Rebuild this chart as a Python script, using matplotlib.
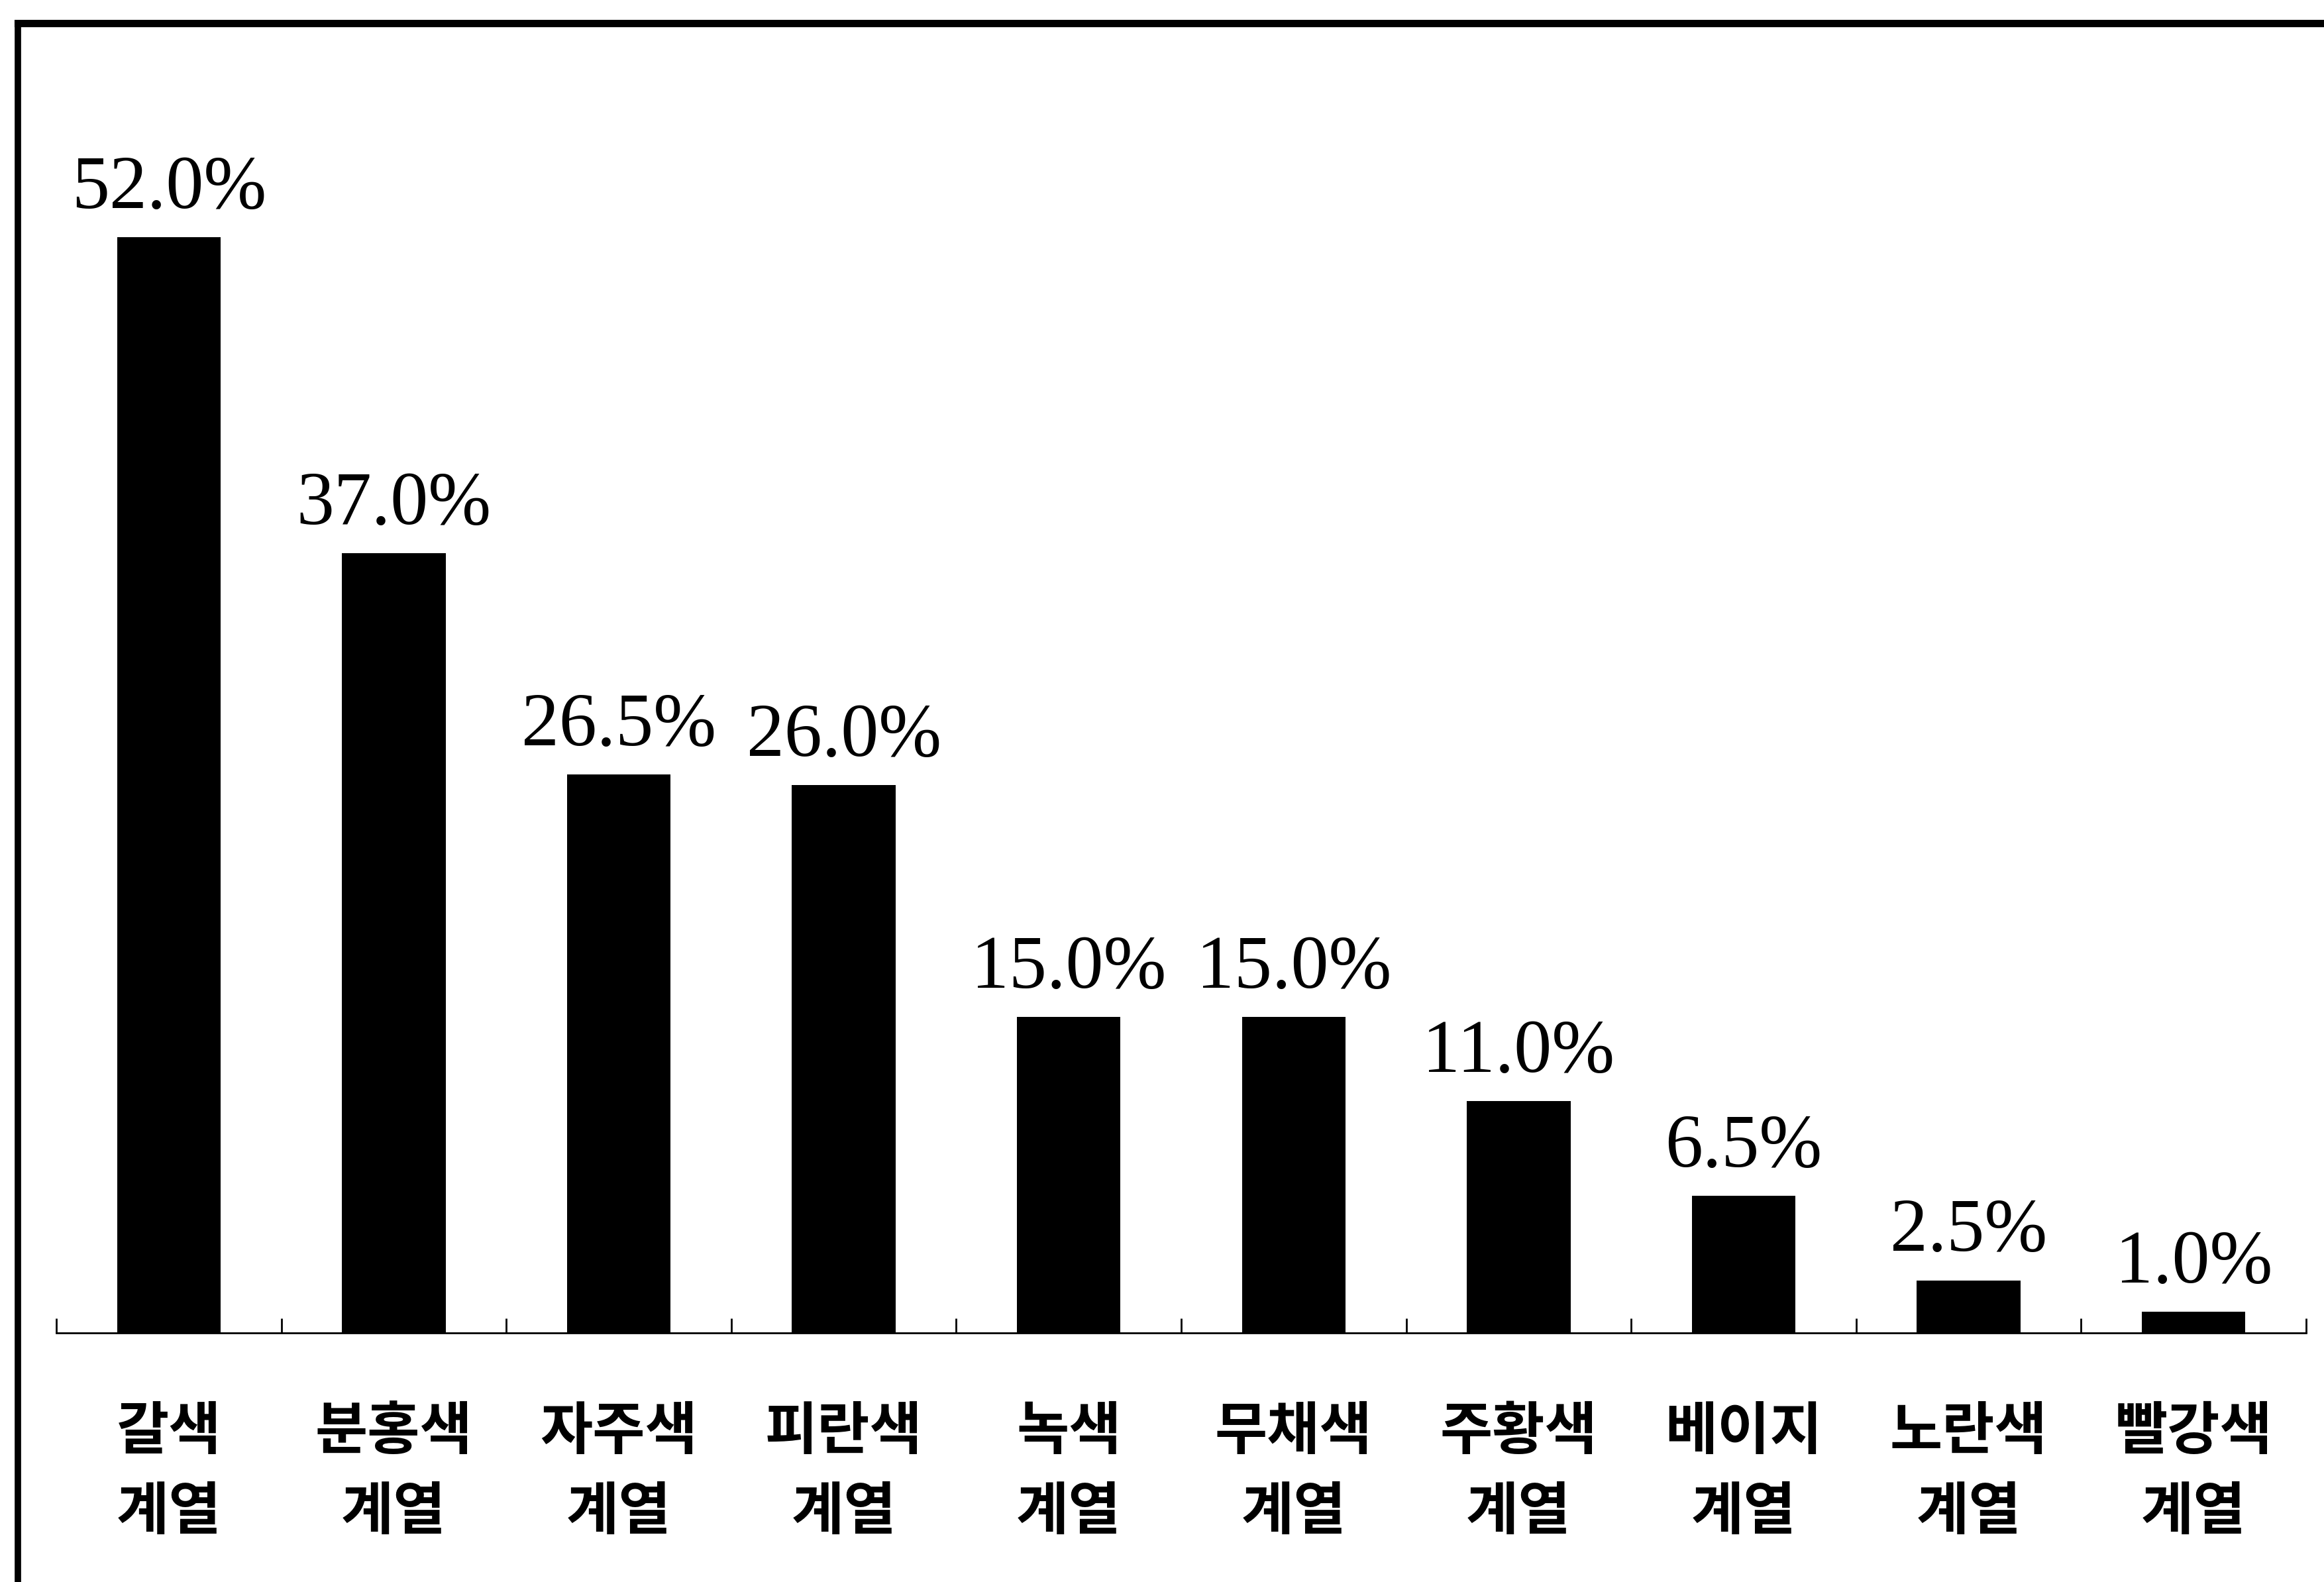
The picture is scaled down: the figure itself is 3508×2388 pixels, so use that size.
import numpy as np
import matplotlib
matplotlib.use("Agg")
import matplotlib.pyplot as plt
from matplotlib.lines import Line2D

# categories (two-line labels) and shares in percent
cats = ["갈색\n계열", "분홍색\n계열", "자주색\n계열", "피란색\n계열", "녹색\n계열",
        "무채색\n계열", "주황색\n계열", "베이지\n계열", "노란색\n계열", "빨강색\n계열"]
vals = [52.0, 37.0, 26.5, 26.0, 15.0, 15.0, 11.0, 6.5, 2.5, 1.0]

W, H = 3508, 2388
fig = plt.figure(figsize=(W / 100, H / 100), dpi=100)
ax = fig.add_axes([85 / W, 376 / H, 3396 / W, 1908 / H])

x = np.arange(len(cats))
ax.bar(x, vals, width=0.46, color="black")

for xi, v in zip(x, vals):
    ax.annotate(f"{v:.1f}%", (xi, v), xytext=(0, 32), textcoords="offset points",
                ha="center", va="baseline", fontsize=82, family="Liberation Serif")

ax.set_xlim(-0.5, len(cats) - 0.5)
ax.set_ylim(0, 60)

for s in ["top", "right", "left"]:
    ax.spines[s].set_visible(False)
ax.spines["bottom"].set_linewidth(2)
ax.set_yticks([])

# boundary ticks pointing up, labels under bar centers
ax.set_xticks(np.arange(-0.5, len(cats)), [])
ax.tick_params(axis="x", which="major", direction="in", length=16, width=2)
ax.set_xticks(x, cats, minor=True)
ax.tick_params(axis="x", which="minor", length=0, pad=76)
for lab in ax.get_xticklabels(minor=True):
    lab.set_family("Noto Sans CJK KR")
    lab.set_fontweight("bold")
    lab.set_fontsize(62)
    lab.set_linespacing(1.46)

# outer frame (top and left only)
fig.add_artist(Line2D([27 / W, 27 / W], [0, 1 - 35 / H], transform=fig.transFigure,
                      color="black", lw=7))
fig.add_artist(Line2D([27 / W, 1], [1 - 35 / H, 1 - 35 / H], transform=fig.transFigure,
                      color="black", lw=8))

fig.savefig("out.png", dpi=100)
